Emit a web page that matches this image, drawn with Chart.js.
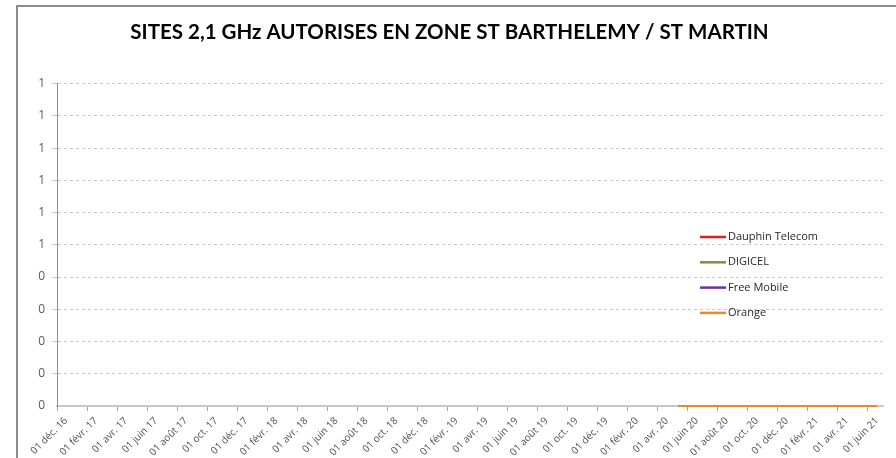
<!DOCTYPE html>
<html lang="fr">
<head>
<meta charset="utf-8">
<title>Sites 2,1 GHz St Barthelemy / St Martin</title>
<script src="https://cdn.jsdelivr.net/npm/chart.js@4.4.1/dist/chart.umd.min.js"></script>
<style>
    html, body {
        margin: 0;
        padding: 0;
        background: #ffffff;
    }
    #wrap {
        width: 896px;
        height: 458px;
    }
</style>
</head>
<body>
<div id="wrap">
    <canvas id="sitesChart" width="896" height="458"></canvas>
</div>
<script>

    const chartTitle =
        "SITES 2,1 GHz AUTORISES EN ZONE ST BARTHELEMY / ST MARTIN";

    const operators = [
        "Dauphin Telecom",
        "DIGICEL",
        "Free Mobile",
        "Orange"
    ];

    const operatorColors = [
        "#e0201e",
        "#77933c",
        "#7030a0",
        "#e8892f"
    ];

    // dates des points (même période pour chaque opérateur)
    const seriesDates = [
        "2020-05-13",
        "2021-06-19"
    ];

    const dauphinValues = [0, 0];
    const digicelValues = [0, 0];
    const freeValues = [0, 0];
    const orangeValues = [0, 0];

    const xTickLabels = [
        "01 déc. 16", "01 févr. 17", "01 avr. 17", "01 juin 17",
        "01 août 17", "01 oct. 17", "01 déc. 17", "01 févr. 18",
        "01 avr. 18", "01 juin 18", "01 août 18", "01 oct. 18",
        "01 déc. 18", "01 févr. 19", "01 avr. 19", "01 juin 19",
        "01 août 19", "01 oct. 19", "01 déc. 19", "01 févr. 20",
        "01 avr. 20", "01 juin 20", "01 août 20", "01 oct. 20",
        "01 déc. 20", "01 févr. 21", "01 avr. 21", "01 juin 21"
    ];

    const yTickLabels = [
        "0", "0", "0", "0", "0",
        "1", "1", "1", "1", "1", "1"
    ];

    // mois écoulés depuis le 01 déc. 2016
    function monthIndex(dateStr) {

        const parts =
            dateStr.split("-").map(Number);

        return (parts[0] - 2016) * 12
            + (parts[1] - 12)
            + (parts[2] - 1) / 30;

    }

    function toPoints(values) {

        return values.map((v, i) => ({
            x: monthIndex(seriesDates[i]),
            y: v
        }));

    }

    const seriesValues = [
        dauphinValues,
        digicelValues,
        freeValues,
        orangeValues
    ];

    const datasets =
        operators.map((name, i) => ({
            label: name,
            data: toPoints(seriesValues[i]),
            borderColor: operatorColors[i],
            backgroundColor: operatorColors[i],
            borderWidth: 2,
            pointRadius: 0,
            fill: false,
            tension: 0,
            clip: false,
            // Orange dessiné au-dessus
            order: operators.length - i
        }));

    const framePlugin = {
        id: "frame",
        beforeDraw(chart) {
            const ctx = chart.ctx;
            ctx.save();
            ctx.fillStyle = "#ffffff";
            ctx.fillRect(0, 0, chart.width, chart.height);
            ctx.strokeStyle = "#8c8c8c";
            ctx.lineWidth = 2;
            ctx.beginPath();
            ctx.moveTo(17, chart.height);
            ctx.lineTo(17, 6);
            ctx.lineTo(chart.width, 6);
            ctx.stroke();
            ctx.restore();
        }
    };

    const sideLegend = {
        id: "sideLegend",
        afterDraw(chart) {
            const ctx = chart.ctx;
            ctx.save();
            ctx.font = "11px 'Open Sans'";
            ctx.textBaseline = "middle";
            ctx.fillStyle = "#262626";
            chart.data.datasets.forEach((ds, i) => {
                const y = 237 + i * 25.3;
                ctx.strokeStyle = ds.borderColor;
                ctx.lineWidth = 2.5;
                ctx.beginPath();
                ctx.moveTo(700, y);
                ctx.lineTo(726, y);
                ctx.stroke();
                ctx.fillText(ds.label, 728, y);
            });
            ctx.restore();
        }
    };

    new Chart(document.getElementById("sitesChart"), {

        type: "line",

        data: {
            datasets: datasets
        },

        plugins: [framePlugin, sideLegend],

        options: {

            responsive: false,
            animation: false,

            layout: {
                padding: {
                    left: 16,
                    right: 13,
                    top: 0,
                    bottom: 0
                }
            },

            plugins: {
                legend: {
                    display: false
                },
                tooltip: {
                    enabled: false
                },
                title: {
                    display: true,
                    text: chartTitle,
                    color: "#000000",
                    font: {
                        family: "Lato",
                        size: 20.5,
                        weight: "bold"
                    },
                    padding: {
                        top: 20,
                        bottom: 39
                    }
                }
            },

            scales: {

                x: {
                    type: "linear",
                    min: 0,
                    max: 55,
                    afterBuildTicks(scale) {
                        scale.ticks =
                            xTickLabels.map((l, i) => ({ value: i * 2 }));
                    },
                    afterFit(scale) {
                        scale.height = 52;
                    },
                    ticks: {
                        autoSkip: false,
                        maxRotation: 45,
                        minRotation: 45,
                        padding: 4,
                        labelOffset: 9,
                        color: "#505050",
                        font: {
                            family: "Open Sans",
                            size: 10
                        },
                        callback: (value) =>
                            xTickLabels[Math.round(value / 2)]
                    },
                    grid: {
                        drawOnChartArea: false,
                        drawTicks: true,
                        tickLength: 5,
                        color: "#a6a6a6"
                    },
                    border: {
                        color: "#c8c8c8",
                        width: 2
                    }
                },

                y: {
                    min: 0,
                    max: 1,
                    afterFit(scale) {
                        scale.width = 41;
                    },
                    ticks: {
                        stepSize: 0.1,
                        padding: 7,
                        color: "#595959",
                        font: {
                            family: "Open Sans",
                            size: 12
                        },
                        callback: (value) =>
                            yTickLabels[Math.round(value * 10)]
                    },
                    grid: {
                        tickLength: 5,
                        color: (c) =>
                            c.tick && c.tick.value === 0
                                ? "rgba(0,0,0,0)"
                                : "#c8c8c8"
                    },
                    border: {
                        color: "#8c8c8c",
                        width: 1,
                        dash: [3, 3]
                    }
                }

            }

        }

    });

</script>
</body>
</html>
